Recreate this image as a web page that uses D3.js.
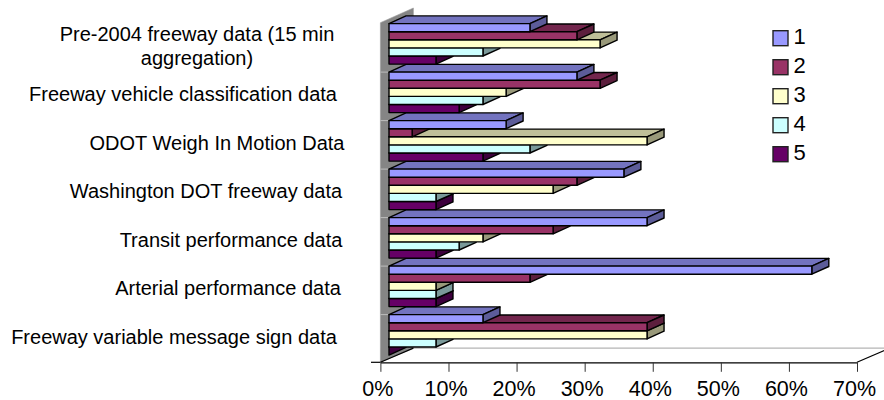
<!DOCTYPE html>
<html><head><meta charset="utf-8">
<script src="https://cdn.jsdelivr.net/npm/d3@7"></script>
<style>html,body{margin:0;padding:0;background:#fff}svg{display:block}text{font-family:"Liberation Sans",Arial,sans-serif;fill:#000}</style>
</head><body><svg id="c" width="884" height="400"></svg>
<script>
const categories = ["Pre-2004 freeway data (15 min aggregation)","Freeway vehicle classification data","ODOT Weigh In Motion Data","Washington DOT freeway data","Transit performance data","Arterial performance data","Freeway variable message sign data"];
const seriesNames = ["1","2","3","4","5"];
const series1 = [20.7,27.6,17.2,34.5,37.9,62.1,13.8];
const series2 = [27.6,31.0,3.4,27.6,24.1,20.7,37.9];
const series3 = [31.0,17.2,37.9,24.1,13.8,6.9,37.9];
const series4 = [13.8,13.8,20.7,6.9,10.3,6.9,6.9];
const series5 = [6.9,10.3,13.8,6.9,6.9,6.9,0];
const seriesColors = ["#9999ff","#993366","#ffffcc","#ccffff","#660066"];
const xTicks = [0,10,20,30,40,50,60,70];
const labelLines = [["Pre-2004 freeway data (15 min","aggregation)"],["Freeway vehicle classification data"],["ODOT Weigh In Motion Data"],["Washington DOT freeway data"],["Transit performance data"],["Arterial performance data"],["Freeway variable message sign data"]];
const labelCenters = [197,183,217,206,231,228,174];

const allSeries = [series1,series2,series3,series4,series5];
const svg = d3.select("#c");
const x = d3.scaleLinear().domain([0,70]).range([380.4,857]);
const y0 = d3.scaleBand().domain(categories).range([19.6,359.1]).paddingInner(8/48.5).paddingOuter(8/48.5/2);
const y1 = d3.scaleBand().domain(seriesNames).range([0,y0.bandwidth()]);
const wallDX=33, wallDY=14.2, barOff=8.6, barDX=17, barDY=7.7, floorY=362.3;
const shade=(c,k)=>{const r=d3.rgb(c);return d3.rgb(r.r*k,r.g*k,r.b*k).formatHex();};
const pts=a=>a.map(p=>p.join(",")).join(" ");

// wall and floor
svg.append("polygon").attr("points",pts([[x(0),22.7],[x(0)+wallDX,8],[x(0)+wallDX,floorY-wallDY],[x(0),floorY]])).attr("fill","#858585").attr("stroke","#999").attr("stroke-width",.6);
categories.slice(1).forEach(c=>{
  const gy=y0(c)-y0.step()*(y0.paddingInner()/2);
  svg.append("line").attr("x1",x(0)).attr("x2",x(0)+barOff).attr("y1",gy+4).attr("y2",gy+4).attr("stroke","#bdbdbd").attr("stroke-width",1);
});
svg.append("line").attr("x1",x(0)+wallDX).attr("x2",890).attr("y1",floorY-wallDY).attr("y2",floorY-wallDY).attr("stroke","#b4b4b4").attr("stroke-width",1.2);
svg.append("line").attr("x1",x(0)).attr("y1",floorY).attr("x2",x(0)+wallDX).attr("y2",floorY-wallDY).attr("stroke","#000").attr("stroke-width",1.2);
svg.append("line").attr("x1",x(70)).attr("y1",floorY).attr("x2",x(70)+wallDX).attr("y2",floorY-wallDY).attr("stroke","#000").attr("stroke-width",1.2);
svg.append("line").attr("x1",371).attr("y1",floorY).attr("x2",x(0)).attr("y2",floorY).attr("stroke","#000").attr("stroke-width",1.2);

// bars, painted from the bottom up
d3.range(categories.length-1,-1,-1).forEach(ci=>{
  d3.range(seriesNames.length-1,-1,-1).forEach(si=>{
    const v=allSeries[si][ci], c=seriesColors[si];
    const top=y0(categories[ci])+y1(seriesNames[si]), h=y1.bandwidth();
    const l=x(0)+barOff, r=x(v)+barOff;
    const g=svg.append("g").attr("stroke","#000").attr("stroke-width",1.4).attr("stroke-linejoin","round");
    g.append("polygon").attr("points",pts([[l,top],[l+barDX,top-barDY],[r+barDX,top-barDY],[r,top]])).attr("fill",shade(c,.75));
    g.append("polygon").attr("points",pts([[r,top],[r+barDX,top-barDY],[r+barDX,top+h-barDY],[r,top+h]])).attr("fill",shade(c,.6));
    g.append("rect").attr("x",l).attr("y",top).attr("width",r-l).attr("height",h).attr("fill",c);
  });
});

// x axis
const ax=svg.append("g").attr("transform",`translate(0,${floorY})`).call(d3.axisBottom(x).tickValues(xTicks).tickFormat(d=>d+"%").tickSize(9.5).tickSizeOuter(0));
ax.select(".domain").attr("stroke","#000").attr("stroke-width",1.2);
ax.selectAll("line").attr("stroke","#333");
ax.selectAll("text").attr("font-size",21.5).attr("dy",0).attr("y",33.5).attr("x",-3).style("font-family",'"Liberation Sans",Arial,sans-serif').style("fill","#000");

// category labels
categories.forEach((c,i)=>{
  const cy=y0(c)+y0.bandwidth()/2+2, lines=labelLines[i], lh=24;
  lines.forEach((t,j)=>{
    svg.append("text").attr("x",labelCenters[i]).attr("y",cy+(j-(lines.length-1)/2)*lh).attr("dy",".35em").attr("text-anchor","middle").attr("font-size",20).text(t);
  });
});

// legend
const ly=d3.scalePoint().domain(seriesNames).range([30.7,146.7]);
seriesNames.forEach((s,i)=>{
  svg.append("rect").attr("x",773).attr("y",ly(s)).attr("width",15).attr("height",15).attr("fill",seriesColors[i]).attr("stroke","#222").attr("stroke-width",1.4);
  svg.append("text").attr("x",793.5).attr("y",ly(s)+13).attr("font-size",22).text(s);
});
</script></body></html>
